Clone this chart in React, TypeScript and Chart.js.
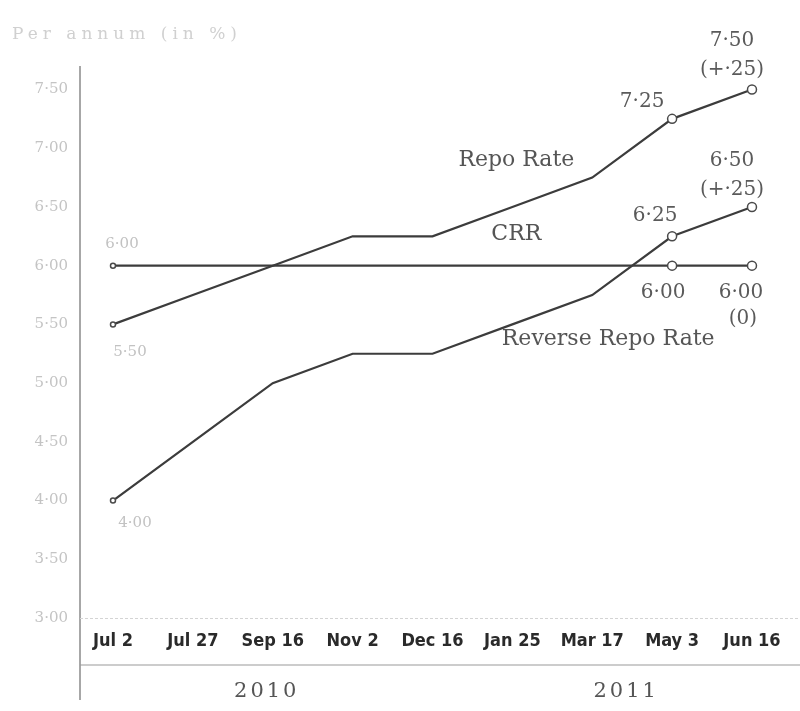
import React, { useEffect, useRef } from "react";
import { Chart, registerables } from "chart.js";

Chart.register(...registerables);

const categories = ["Jul 2", "Jul 27", "Sep 16", "Nov 2", "Dec 16", "Jan 25", "Mar 17", "May 3", "Jun 16"];
const repoRate = [5.5, 5.75, 6.0, 6.25, 6.25, 6.5, 6.75, 7.25, 7.5];
const reverseRepoRate = [4.0, 4.5, 5.0, 5.25, 5.25, 5.5, 5.75, 6.25, 6.5];
const crrRate = [6.0, 6.0, 6.0, 6.0, 6.0, 6.0, 6.0, 6.0, 6.0];
const yTickValues = [3.0, 3.5, 4.0, 4.5, 5.0, 5.5, 6.0, 6.5, 7.0, 7.5];
const yearLabels = ["2010", "2011"];
const yearSpans = [[0, 4], [5, 8]];
const seriesNames = ["Repo Rate", "CRR", "Reverse Repo Rate"];
const titleText = "Per annum (in %)";

const fmt = (v: number) => v.toFixed(2).replace(".", "·");
const fmtChange = (d: number) => (d === 0 ? "(0)" : "(+" + d.toFixed(2).replace("0.", "·") + ")");

// annotation styling (positions relative to points, in px)
type Note = { series: number; index: number; dx: number; dy: number; faint?: boolean; change?: boolean };
const notes: Note[] = [
  { series: 0, index: 8, dx: -20, dy: -49 },
  { series: 0, index: 8, dx: -20, dy: -20, change: true },
  { series: 0, index: 7, dx: -30, dy: -17 },
  { series: 0, index: 0, dx: 17, dy: 28, faint: true },
  { series: 2, index: 8, dx: -20, dy: -46 },
  { series: 2, index: 8, dx: -20, dy: -17, change: true },
  { series: 2, index: 7, dx: -17, dy: -21 },
  { series: 2, index: 0, dx: 22, dy: 23, faint: true },
  { series: 1, index: 7, dx: -9, dy: 27 },
  { series: 1, index: 8, dx: -11, dy: 27 },
  { series: 1, index: 8, dx: -9, dy: 53, change: true },
  { series: 1, index: 0, dx: 9, dy: -22, faint: true },
];
const seriesLabelPos = [
  { x: 5.05, y: 6.9 },
  { x: 5.05, y: 6.27 },
  { x: 6.2, y: 5.37 },
];

const allSeries = [repoRate, crrRate, reverseRepoRate];

export default function App() {
  const ref = useRef<HTMLCanvasElement | null>(null);
  useEffect(() => {
    document.body.style.margin = "0";
    const canvas = ref.current!;
    const decor = {
      id: "decor",
      afterDatasetsDraw(chart: any) {
        const ctx = chart.ctx as CanvasRenderingContext2D;
        const xs = chart.scales.x;
        const ys = chart.scales.y;
        const area = chart.chartArea;
        ctx.save();
        // y axis line
        ctx.strokeStyle = "#8a8a8a";
        ctx.lineWidth = 1.5;
        ctx.beginPath();
        ctx.moveTo(area.left, area.top);
        ctx.lineTo(area.left, 700);
        ctx.stroke();
        // faint baseline
        ctx.strokeStyle = "#d4d4d4";
        ctx.lineWidth = 1;
        ctx.setLineDash([3, 2]);
        ctx.beginPath();
        ctx.moveTo(area.left, area.bottom + 0.5);
        ctx.lineTo(800, area.bottom + 0.5);
        ctx.stroke();
        ctx.setLineDash([]);
        // line below labels
        ctx.strokeStyle = "#9a9a9a";
        ctx.lineWidth = 1.2;
        ctx.beginPath();
        ctx.moveTo(area.left, 665);
        ctx.lineTo(800, 665);
        ctx.stroke();
        // years
        ctx.fillStyle = "#555";
        ctx.font = "21px 'DejaVu Serif'";
        (ctx as any).letterSpacing = "3px";
        ctx.textAlign = "center";
        ctx.textBaseline = "middle";
        yearLabels.forEach((y, i) => {
          const cx = (xs.getPixelForValue(yearSpans[i][0]) + xs.getPixelForValue(yearSpans[i][1])) / 2;
          ctx.fillText(y, cx - 6, 692);
        });
        // title
        ctx.fillStyle = "#d0d0d0";
        ctx.font = "17px 'DejaVu Serif'";
        (ctx as any).letterSpacing = "5px";
        ctx.textAlign = "left";
        ctx.fillText(titleText, 12, 35);
        (ctx as any).letterSpacing = "0px";
        // series labels
        ctx.fillStyle = "#555";
        ctx.font = "22px 'DejaVu Serif'";
        ctx.textAlign = "center";
        seriesNames.forEach((n, i) => {
          ctx.fillText(n, xs.getPixelForValue(seriesLabelPos[i].x), ys.getPixelForValue(seriesLabelPos[i].y));
        });
        // point notes
        notes.forEach((nt) => {
          const vals = allSeries[nt.series];
          const v = vals[nt.index];
          const txt = nt.change ? fmtChange(v - vals[nt.index - 1]) : fmt(v);
          const px = xs.getPixelForValue(nt.index) + nt.dx;
          const py = ys.getPixelForValue(v) + nt.dy;
          ctx.fillStyle = nt.faint ? "#c2c2c2" : "#5a5a5a";
          ctx.font = nt.faint ? "15px 'DejaVu Serif'" : "20px 'DejaVu Serif'";
          ctx.fillText(txt, px, py);
        });
        ctx.restore();
      },
    };
    const radius = [2.5, 0, 0, 0, 0, 0, 0, 4.5, 4.5];
    const mk = (label: string, vals: number[]) => ({
      label,
      data: categories.map((_, i) => ({ x: i, y: vals[i] })),
      borderColor: "#3c3c3c",
      borderWidth: 2.2,
      pointRadius: radius,
      pointBackgroundColor: "#ffffff",
      pointBorderColor: "#4a4a4a",
      pointBorderWidth: 1.5,
      tension: 0,
      fill: false,
    });
    const chart = new Chart(canvas, {
      type: "line",
      data: {
        datasets: [mk(seriesNames[0], repoRate), mk(seriesNames[1], crrRate), mk(seriesNames[2], reverseRepoRate)],
      },
      options: {
        animation: false,
        responsive: false,
        devicePixelRatio: 1,
        layout: { padding: { top: 66, right: 10, left: 0, bottom: 0 } },
        plugins: { legend: { display: false }, tooltip: { enabled: false } },
        scales: {
          x: {
            type: "linear",
            min: -0.413,
            max: 8.476,
            grid: { display: false, drawTicks: false },
            border: { display: false },
            afterBuildTicks: (s: any) => {
              s.ticks = categories.map((_, i) => ({ value: i }));
            },
            afterFit: (s: any) => {
              s.height = 93;
            },
            ticks: {
              autoSkip: false,
              maxRotation: 0,
              padding: 13,
              color: "#2a2a2a",
              font: { family: "'DejaVu Sans Condensed', 'Liberation Sans Narrow', sans-serif", size: 18, weight: "bold" },
              callback: (v: any) => categories[Math.round(Number(v))] ?? "",
            },
          },
          y: {
            type: "linear",
            min: 3.0,
            max: 7.7,
            grid: { display: false, drawTicks: false },
            border: { display: false },
            afterBuildTicks: (s: any) => {
              s.ticks = yTickValues.map((v) => ({ value: v }));
            },
            afterFit: (s: any) => {
              s.width = 80;
            },
            ticks: {
              padding: 12,
              color: "#c4c4c4",
              font: { family: "'DejaVu Serif', serif", size: 15 },
              callback: (v: any) => fmt(Number(v)),
            },
          },
        },
      },
      plugins: [decor],
    } as any);
    return () => chart.destroy();
  }, []);
  return <canvas ref={ref} width={800} height={711} style={{ display: "block", width: 800, height: 711 }} />;
}
